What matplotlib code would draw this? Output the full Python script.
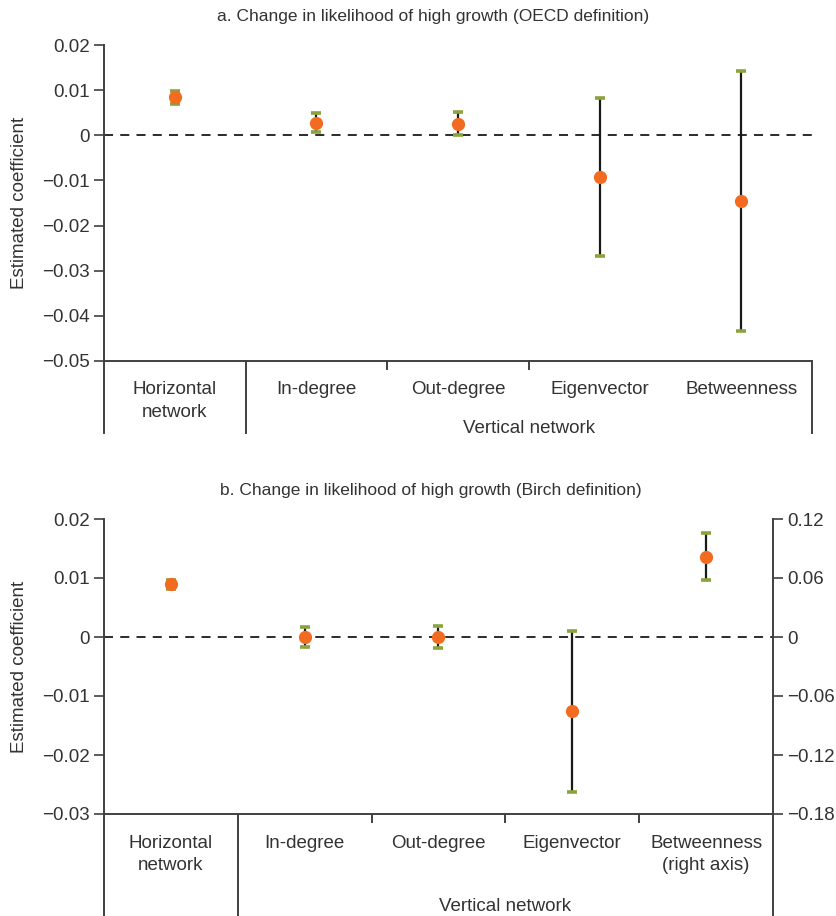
import matplotlib
matplotlib.use("Agg")
import matplotlib.pyplot as plt
import matplotlib.transforms as mtransforms

plt.rcParams["font.family"] = ["Liberation Sans", "DejaVu Sans"]

# Data
categories = ["Horizontal\nnetwork", "In-degree", "Out-degree", "Eigenvector", "Betweenness"]
categories_b = ["Horizontal\nnetwork", "In-degree", "Out-degree", "Eigenvector", "Betweenness\n(right axis)"]

# panel a: OECD definition
a_est = [0.0084, 0.0028, 0.0026, -0.0093, -0.0145]
a_low = [0.0070, 0.0008, 0.0001, -0.0268, -0.0433]
a_high = [0.0099, 0.0049, 0.0052, 0.0082, 0.0143]

# panel b: Birch definition (last one on right axis)
b_est = [0.0089, 0.0, 0.0, -0.0126]
b_low = [0.0082, -0.0017, -0.0018, -0.0262]
b_high = [0.0096, 0.0017, 0.0019, 0.0011]
b_right_est = [0.0817]
b_right_low = [0.0577]
b_right_high = [0.1060]

a_ticks = [0.02, 0.01, 0, -0.01, -0.02, -0.03, -0.04, -0.05]
b_ticks = [0.02, 0.01, 0, -0.01, -0.02, -0.03]
b_right_ticks = [0.12, 0.06, 0, -0.06, -0.12, -0.18]

ORANGE = "#f26b21"
GREEN = "#8aa33c"
TXT = "#333333"
LINE = "#404040"
FS = 13.5
TFS = 12.5


def fmt(v):
    if abs(v) < 1e-12:
        return "0"
    return f"{v:.2f}".replace("-", "\u2212")


def draw_points(ax, xs, est, low, high):
    yerr = [[e - l for e, l in zip(est, low)], [h - e for e, h in zip(est, high)]]
    line, caps, bars = ax.errorbar(xs, est, yerr=yerr, fmt="o", color=ORANGE, ms=8.5,
                                   ecolor="#1a1a1a", elinewidth=1.6, capsize=3.8,
                                   capthick=2.6, zorder=4)
    for c in caps:
        c.set_markeredgecolor(GREEN)
        c.set_markerfacecolor(GREEN)
        c.set_zorder(5)
    line.set_zorder(6)


def style(ax, ticks, drop, label_y, group_y, labels, short_ticks, long_lines):
    ax.set_xlim(-0.5, 4.5)
    ax.set_ylim(min(ticks), max(ticks))
    ax.set_yticks(ticks)
    ax.set_yticklabels([fmt(t) for t in ticks])
    ax.set_xticks([])
    ax.tick_params(axis="y", direction="out", length=7, width=1.2, colors=LINE,
                   labelcolor=TXT, labelsize=FS, pad=3)
    for s in ["top", "right"]:
        ax.spines[s].set_visible(False)
    for s in ["left", "bottom"]:
        ax.spines[s].set_color(LINE)
        ax.spines[s].set_linewidth(1.4)
    ax.axhline(0, color="#1a1a1a", lw=1.3, ls=(0, (5, 4)), zorder=1)
    ax.set_ylabel("Estimated coefficient", fontsize=FS, color=TXT, labelpad=10)
    trans = mtransforms.blended_transform_factory(ax.transData, ax.transAxes)
    for x in long_lines:
        ax.plot([x, x], [0, drop], transform=trans, color=LINE, lw=1.4, clip_on=False)
    for x in short_ticks:
        ax.plot([x, x], [0, -0.026], transform=trans, color=LINE, lw=1.4, clip_on=False)
    for i, lab in enumerate(labels):
        ax.text(i, label_y, lab, transform=trans, ha="center", va="top",
                fontsize=FS, color=TXT, linespacing=1.45)
    ax.text(2.5, group_y, "Vertical network", transform=trans, ha="center", va="top",
            fontsize=FS, color=TXT)


fig = plt.figure(figsize=(8.37, 9.16), dpi=100)

# panel a
ax1 = fig.add_axes([104 / 837, (916 - 361) / 916, 708 / 837, 316 / 916])
style(ax1, a_ticks, -0.228, -0.064, -0.187, categories, [1.5, 2.5], [-0.5, 0.5, 4.5])
draw_points(ax1, range(5), a_est, a_low, a_high)
fig.text(433 / 837, 1 - 16 / 916, "a. Change in likelihood of high growth (OECD definition)",
         ha="center", va="center", fontsize=TFS, color=TXT)

# panel b
ax2 = fig.add_axes([104 / 837, (916 - 814) / 916, 669 / 837, 295 / 916])
style(ax2, b_ticks, -0.345, -0.07, -0.286, categories_b, [1.5, 2.5, 3.5], [-0.5, 0.5])
draw_points(ax2, range(4), b_est, b_low, b_high)
ax2r = ax2.twinx()
ax2r.set_xlim(-0.5, 4.5)
ax2r.set_ylim(min(b_right_ticks), max(b_right_ticks))
ax2r.set_yticks(b_right_ticks)
ax2r.set_yticklabels([fmt(t) for t in b_right_ticks])
ax2r.tick_params(axis="y", direction="out", length=7, width=1.2, colors=LINE,
                 labelcolor=TXT, labelsize=FS, pad=3)
for s in ["top", "left", "bottom"]:
    ax2r.spines[s].set_visible(False)
ax2r.spines["right"].set_color(LINE)
ax2r.spines["right"].set_linewidth(1.4)
trans_r = mtransforms.blended_transform_factory(ax2r.transData, ax2r.transAxes)
ax2r.plot([4.5, 4.5], [0, -0.345], transform=trans_r, color=LINE, lw=1.4, clip_on=False)
draw_points(ax2r, [4], b_right_est, b_right_low, b_right_high)
fig.text(431 / 837, 1 - 490 / 916, "b. Change in likelihood of high growth (Birch definition)",
         ha="center", va="center", fontsize=TFS, color=TXT)

fig.savefig("out.png", dpi=100)
